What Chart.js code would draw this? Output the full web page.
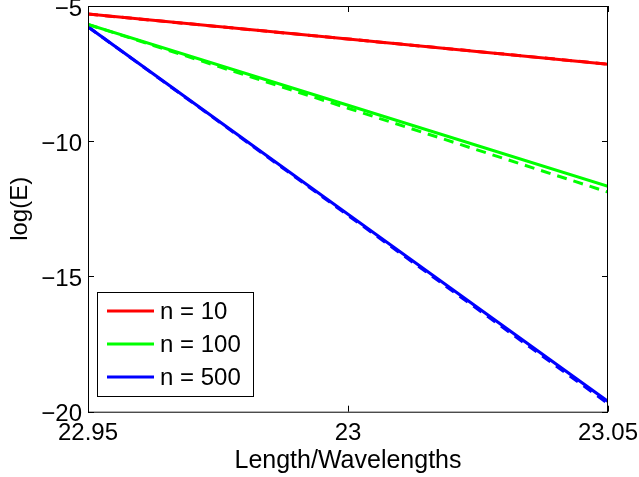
<!DOCTYPE html>
<html>
<head>
<meta charset="utf-8">
<script src="https://cdn.jsdelivr.net/npm/chart.js@4/dist/chart.umd.min.js"></script>
<style>
  html, body { margin: 0; padding: 0; background: #fff; }
  #wrap { width: 639px; height: 477px; }
</style>
</head>
<body>
<div id="wrap"><canvas id="grafico" width="639" height="477"></canvas></div>
<script>
// valores
const comprimento = [22.95, 23, 23.05];
const n10 = [-5.30, -6.22, -7.15];
const n10b = [-5.30, -6.22, -7.15];
const n100 = [-5.68, -8.67, -11.67];
const n100b = [-5.68, -8.78, -11.88];
const n500 = [-5.77, -12.70, -19.62];
const n500b = [-5.77, -12.74, -19.70];
const ticksX = [22.95, 23, 23.05];
const ticksY = [-5, -10, -15, -20];
const rotulos = ['n = 10', 'n = 100', 'n = 500'];
const cores = ['#ff0000', '#00ff00', '#0000ff'];

const fonte = "'Liberation Sans', Arial, Helvetica, sans-serif";

function serie(label, ys, cor, tracejado) {
  return {
    label: label,
    data: comprimento.map((x, i) => ({ x, y: ys[i] })),
    borderColor: cor,
    backgroundColor: cor,
    borderWidth: 3,
    borderDash: tracejado ? [10, 7] : [],
    pointRadius: 0,
    fill: false,
    tension: 0
  };
}

// moldura, ticks para dentro e legenda
const moldura = {
  id: 'moldura',
  afterDatasetsDraw(chart) {
    const ctx = chart.ctx;
    const a = chart.chartArea;
    const sx = chart.scales.x, sy = chart.scales.y;
    ctx.save();
    ctx.strokeStyle = '#000';
    ctx.lineWidth = 1;
    ctx.setLineDash([]);
    ctx.strokeRect(a.left + 0.5, a.top + 0.5, a.right - a.left - 1, a.bottom - a.top);
    ctx.beginPath();
    ticksX.forEach(v => {
      const p = Math.round(sx.getPixelForValue(v)) + 0.5;
      ctx.moveTo(p, a.bottom); ctx.lineTo(p, a.bottom - 6);
      ctx.moveTo(p, a.top); ctx.lineTo(p, a.top + 6);
    });
    ticksY.forEach(v => {
      const p = Math.round(sy.getPixelForValue(v)) + 0.5;
      ctx.moveTo(a.left, p); ctx.lineTo(a.left + 6, p);
      ctx.moveTo(a.right, p); ctx.lineTo(a.right - 6, p);
    });
    ctx.stroke();

    // legenda
    const lx = 97, ly = 292, lw = 156, lh = 104;
    ctx.fillStyle = '#fff';
    ctx.fillRect(lx, ly, lw, lh);
    ctx.strokeStyle = '#000';
    ctx.strokeRect(lx + 0.5, ly + 0.5, lw, lh);
    ctx.font = '24px ' + fonte;
    ctx.textBaseline = 'middle';
    rotulos.forEach((t, i) => {
      const y = 311 + i * 33;
      ctx.strokeStyle = cores[i];
      ctx.lineWidth = 3;
      ctx.beginPath();
      ctx.moveTo(107, y); ctx.lineTo(154, y);
      ctx.stroke();
      ctx.fillStyle = '#000';
      ctx.fillText(t, 160, y + 1);
    });
    ctx.restore();
  }
};

const ctx = document.getElementById('grafico').getContext('2d');
new Chart(ctx, {
  type: 'line',
  data: {
    datasets: [
      serie(rotulos[0], n10, cores[0], false),
      serie(rotulos[1], n100, cores[1], false),
      serie(rotulos[2], n500, cores[2], false),
      serie(rotulos[0], n10b, cores[0], true),
      serie(rotulos[1], n100b, cores[1], true),
      serie(rotulos[2], n500b, cores[2], true)
    ]
  },
  options: {
    responsive: false,
    animation: false,
    layout: { padding: { top: 6, right: 31, bottom: 0, left: 0 } },
    plugins: {
      legend: { display: false },
      tooltip: { enabled: false }
    },
    scales: {
      x: {
        type: 'linear',
        min: 22.95,
        max: 23.05,
        afterBuildTicks: s => { s.ticks = ticksX.map(v => ({ value: v })); },
        afterFit: s => { s.height = 65.3; s.paddingLeft = 0; s.paddingRight = 0; },
        grid: { display: false, drawTicks: false },
        border: { display: false },
        ticks: {
          color: '#000',
          padding: 7,
          maxRotation: 0,
          font: { family: fonte, size: 24 },
          callback: v => String(v)
        },
        title: {
          display: true,
          text: 'Length/Wavelengths',
          color: '#000',
          font: { family: fonte, size: 25 },
          padding: { top: 0, bottom: 1 }
        }
      },
      y: {
        type: 'linear',
        min: -20,
        max: -5,
        afterBuildTicks: s => { s.ticks = ticksY.map(v => ({ value: v })); },
        afterFit: s => { s.width = 88; s.paddingTop = 0; s.paddingBottom = 0; },
        grid: { display: false, drawTicks: false },
        border: { display: false },
        ticks: {
          color: '#000',
          padding: 6,
          labelOffset: 3,
          font: { family: fonte, size: 24 },
          callback: v => String(v).replace('-', '\u2212')
        },
        title: {
          display: true,
          text: 'log(E)',
          color: '#000',
          font: { family: fonte, size: 24 },
          padding: { top: 6, bottom: 0 }
        }
      }
    }
  },
  plugins: [moldura]
});
</script>
</body>
</html>
